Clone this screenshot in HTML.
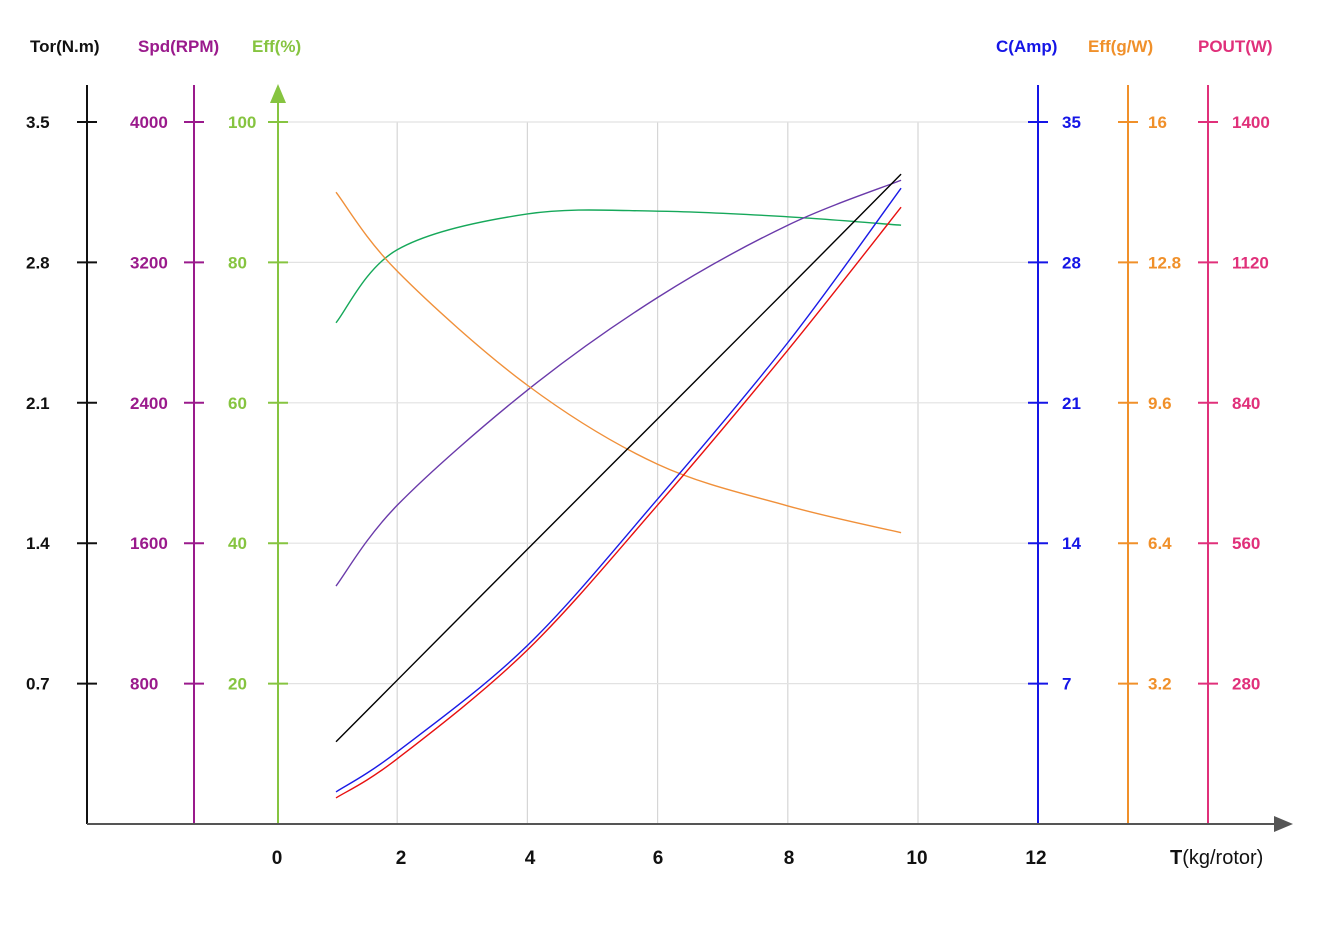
<!DOCTYPE html>
<html><head><meta charset="utf-8"><style>
body{margin:0;background:#fff;}
svg text{font-family:"Liberation Sans",sans-serif;}
</style></head><body>
<svg id="chart" width="1326" height="932" viewBox="0 0 1326 932" xmlns="http://www.w3.org/2000/svg">
<g id="grid"></g><g id="axes"></g><g id="series"></g>
</svg>
<script>
const xThrust=[1.06,2,4,6,8,9.74];
const torque=[0.41,0.717,1.37,2.02,2.67,3.24];
const current=[1.6,3.6,8.9,16.2,24.0,31.7];
const power=[52,130,347,636,945,1230];
const speed=[1356,1816,2472,3000,3412,3668];
const effGW=[14.4,12.6,10.0,8.2,7.25,6.64];
const effPct=[71.4,81.8,86.9,87.3,86.5,85.3];
const xTicks=[0,2,4,6,8,10,12];
const torTicks=[0.7,1.4,2.1,2.8,3.5];
const spdTicks=[800,1600,2400,3200,4000];
const effTicks=[20,40,60,80,100];
const ampTicks=[7,14,21,28,35];
const gwTicks=[3.2,6.4,9.6,12.8,16];
const powTicks=[280,560,840,1120,1400];

const NS="http://www.w3.org/2000/svg";
const gG=document.getElementById('grid'),gA=document.getElementById('axes'),gS=document.getElementById('series');
function el(p,t,a,txt){const e=document.createElementNS(NS,t);for(const k in a)e.setAttribute(k,a[k]);if(txt!==undefined)e.textContent=txt;p.appendChild(e);return e;}
const X0=267,XU=65.1,Y0=824,YH=702;
const xs=v=>X0+XU*v;
const yf=(v,max)=>Y0-YH*v/max;

[2,4,6,8,10].forEach(v=>{const l=el(gG,'line',{x1:xs(v),x2:xs(v),y1:122,y2:824,stroke:'#d6d6d6','stroke-width':1.2});

});
effTicks.forEach(v=>{const l=el(gG,'line',{x1:285,x2:1032,y1:yf(v,100),y2:yf(v,100),stroke:'#e2e2e2','stroke-width':1.2});

});

function axis(name,x,color,ticks,max,lx,anchor,title,tx,arrow){
  const g=el(gA,'g',{});
  
  
  el(g,'line',{x1:x,x2:x,y1:arrow?100:85,y2:824,stroke:color,'stroke-width':2});
  if(arrow)el(g,'polygon',{points:`${x-8},103 ${x},84 ${x+8},103`,fill:color});
  ticks.forEach(v=>{const y=yf(v,max);
    el(g,'line',{x1:x-10,x2:x+10,y1:y,y2:y,stroke:color,'stroke-width':2});
    const t=el(g,'text',{x:lx,y:y+6,fill:color,'font-size':17,'font-weight':'bold','text-anchor':anchor},String(v));
    
    });
  const tt=el(g,'text',{x:tx,y:52,fill:color,'font-size':17,'font-weight':'bold'},title);
  
  
}
axis('torque',87,'#111',torTicks,3.5,26,'start','Tor(N.m)',30);
axis('speed',194,'#9a1a8c',spdTicks,4000,130,'start','Spd(RPM)',138);
axis('eff-pct',278,'#86c440',effTicks,100,228,'start','Eff(%)',252,true);
axis('current',1038,'#1515e6',ampTicks,35,1062,'start','C(Amp)',996);
axis('eff-gw',1128,'#f0902a',gwTicks,16,1148,'start','Eff(g/W)',1088);
axis('power',1208,'#e0307a',powTicks,1400,1232,'start','POUT(W)',1198);

const xa=el(gA,'g',{});


el(xa,'line',{x1:87,x2:1278,y1:824,y2:824,stroke:'#555','stroke-width':2});
el(xa,'polygon',{points:'1274,816 1293,824 1274,832',fill:'#555'});
const xlp=[277,401,530,658,789,917,1036];
xTicks.forEach((v,i)=>{const t=el(xa,'text',{x:xlp[i],y:864,'text-anchor':'middle','font-size':19,'font-weight':'bold',fill:'#111'},String(v));

});
const xt=el(xa,'text',{x:1170,y:864,'font-size':20,fill:'#111'});


el(xt,'tspan',{'font-weight':'bold'},'T');el(xt,'tspan',{},'(kg/rotor)');

function smooth(pts){let d=`M${pts[0][0]},${pts[0][1]}`;
  for(let i=0;i<pts.length-1;i++){const p0=pts[i-1]||pts[i],p1=pts[i],p2=pts[i+1],p3=pts[i+2]||p2;
    d+=` C${p1[0]+(p2[0]-p0[0])/6},${p1[1]+(p2[1]-p0[1])/6} ${p2[0]-(p3[0]-p1[0])/6},${p2[1]-(p3[1]-p1[1])/6} ${p2[0]},${p2[1]}`;}
  return d;}
function series(name,vals,max,color){
  const pts=xThrust.map((x,i)=>[xs(x),yf(vals[i],max)]);
  const p=el(gS,'path',{d:smooth(pts),fill:'none',stroke:color,'stroke-width':1.4});
  
  
}
series('eff-pct-line',effPct,100,'#16a85a');
series('speed-line',speed,4000,'#6a3aaa');
series('eff-gw-line',effGW,16,'#f0903a');
series('power-line',power,1400,'#e81010');
series('current-line',current,35,'#1a1ae6');
series('torque-line',torque,3.5,'#000');
</script>
</body></html>
